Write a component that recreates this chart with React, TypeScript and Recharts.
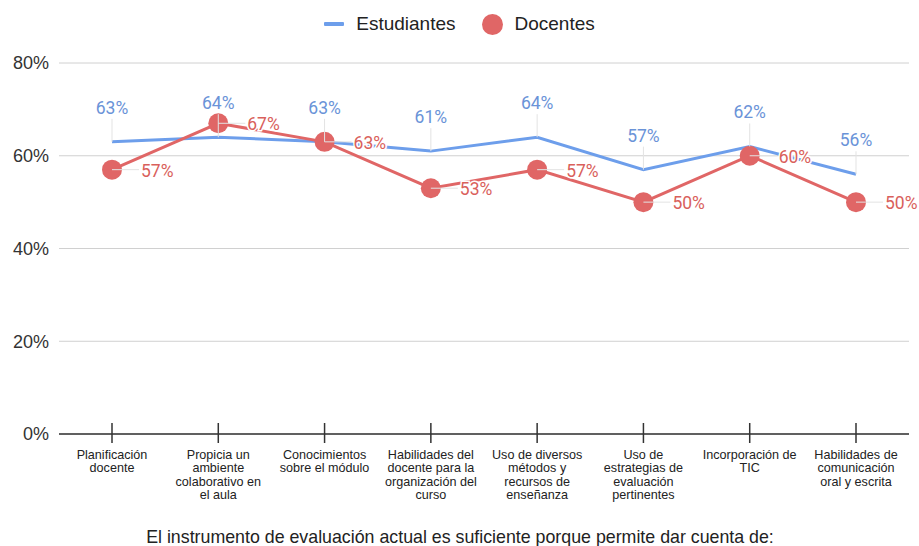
import React from "react";
import {
  LineChart,
  Line,
  XAxis,
  YAxis,
  CartesianGrid,
  Legend,
  LabelList,
  Label,
} from "recharts";

const categories = [
  "Planificación\ndocente",
  "Propicia un\nambiente\ncolaborativo en\nel aula",
  "Conocimientos\nsobre el módulo",
  "Habilidades del\ndocente para la\norganización del\ncurso",
  "Uso de diversos\nmétodos y\nrecursos de\nenseñanza",
  "Uso de\nestrategias de\nevaluación\npertinentes",
  "Incorporación de\nTIC",
  "Habilidades de\ncomunicación\noral y escrita",
];
const estudiantes = [63, 64, 63, 61, 64, 57, 62, 56];
const docentes = [57, 67, 63, 53, 57, 50, 60, 50];
const yTicks = [0, 20, 40, 60, 80];
const xTitle =
  "El instrumento de evaluación actual es suficiente porque permite dar cuenta de:";

const BLUE = "#6d9eeb";
const BLUE_TEXT = "#6a93d8";
const RED = "#e06666";
const RED_TEXT = "#d9605b";
const AXIS_FONT = "'Liberation Sans', Arial, sans-serif";
const LABEL_FONT = "Roboto, 'Liberation Sans', sans-serif";

const data = categories.map((name, i) => ({
  name,
  estudiantes: estudiantes[i],
  docentes: docentes[i],
}));

// etiqueta encima del punto, con línea guía vertical
const BlueLabel = (props: any) => {
  const { x, y, value } = props;
  return (
    <g>
      <line x1={x} y1={y} x2={x} y2={y - 23} stroke="#e3e3e3" strokeWidth={1} />
      <text
        x={x}
        y={y - 28}
        textAnchor="middle"
        fill={BLUE_TEXT}
        fontSize={17.5}
        fontFamily={LABEL_FONT}
      >
        {`${value}%`}
      </text>
    </g>
  );
};

// etiqueta a la derecha del punto, con línea guía horizontal
const RedLabel = (props: any) => {
  const { x, y, value } = props;
  return (
    <g>
      <line x1={x} y1={y} x2={x + 27} y2={y} stroke="#e3e3e3" strokeWidth={1} />
      <text
        x={x + 29}
        y={y + 7}
        textAnchor="start"
        fill={RED_TEXT}
        fontSize={17.5}
        fontFamily={LABEL_FONT}
        stroke="#fff"
        strokeWidth={3}
        paintOrder="stroke"
      >
        {`${value}%`}
      </text>
    </g>
  );
};

const CategoryTick = (props: any) => {
  const { x, y, payload } = props;
  const lines = String(payload.value).split("\n");
  return (
    <g>
      <line x1={x} y1={y - 11} x2={x} y2={y + 9} stroke="#333" strokeWidth={1.5} />
      <text
        x={x}
        y={y + 25}
        textAnchor="middle"
        fill="#222"
        fontSize={12.6}
        fontFamily={AXIS_FONT}
      >
        {lines.map((l, i) => (
          <tspan key={i} x={x} dy={i === 0 ? 0 : 13.4}>
            {l}
          </tspan>
        ))}
      </text>
    </g>
  );
};

const LegendContent = () => (
  <div
    style={{
      height: 30,
      display: "flex",
      justifyContent: "center",
      alignItems: "center",
      paddingLeft: 10,
      fontFamily: AXIS_FONT,
      fontSize: 19,
      color: "#222",
    }}
  >
    <span
      style={{ width: 20, height: 4, background: BLUE, borderRadius: 1, marginRight: 12 }}
    />
    <span style={{ marginRight: 26 }}>Estudiantes</span>
    <span
      style={{ width: 21, height: 21, background: RED, borderRadius: "50%", marginRight: 12 }}
    />
    <span>Docentes</span>
  </div>
);

export default function App() {
  return (
    <div style={{ position: "absolute", left: 0, top: 0, background: "#fff" }}>
      <LineChart
        width={919}
        height={546}
        data={data}
        margin={{ top: 33, right: 10, bottom: 0, left: 0 }}
      >
        <Legend
          verticalAlign="top"
          content={<LegendContent />}
          wrapperStyle={{ top: 9 }}
        />
        <CartesianGrid vertical={false} stroke="#d0d0d0" />
        <XAxis
          dataKey="name"
          interval={0}
          padding={{ left: 53, right: 53 }}
          height={112}
          axisLine={{ stroke: "#333", strokeWidth: 1.5 }}
          tickLine={false}
          tickSize={0}
          tickMargin={0}
          tick={<CategoryTick />}
        >
          <Label
            content={(p: any) => {
              const { viewBox } = p;
              return (
                <text
                  x={460}
                  y={viewBox.y + viewBox.height - 3}
                  textAnchor="middle"
                  fill="#222"
                  fontSize={17.8}
                  fontFamily={AXIS_FONT}
                >
                  {xTitle}
                </text>
              );
            }}
          />
        </XAxis>
        <YAxis
          domain={[0, 80]}
          ticks={yTicks}
          width={59}
          axisLine={false}
          tickLine={false}
          tickSize={0}
          tickMargin={10}
          tickFormatter={(v) => `${v}%`}
          tick={{ fill: "#333", fontSize: 18, fontFamily: AXIS_FONT }}
        />
        <Line
          type="linear"
          dataKey="estudiantes"
          name="Estudiantes"
          stroke={BLUE}
          strokeWidth={3}
          dot={false}
          activeDot={false}
          isAnimationActive={false}
        >
          <LabelList dataKey="estudiantes" content={<BlueLabel />} />
        </Line>
        <Line
          type="linear"
          dataKey="docentes"
          name="Docentes"
          stroke={RED}
          strokeWidth={3}
          dot={{ r: 10, fill: RED, stroke: RED, strokeWidth: 0 }}
          activeDot={false}
          isAnimationActive={false}
        >
          <LabelList dataKey="docentes" content={<RedLabel />} />
        </Line>
      </LineChart>
    </div>
  );
}
